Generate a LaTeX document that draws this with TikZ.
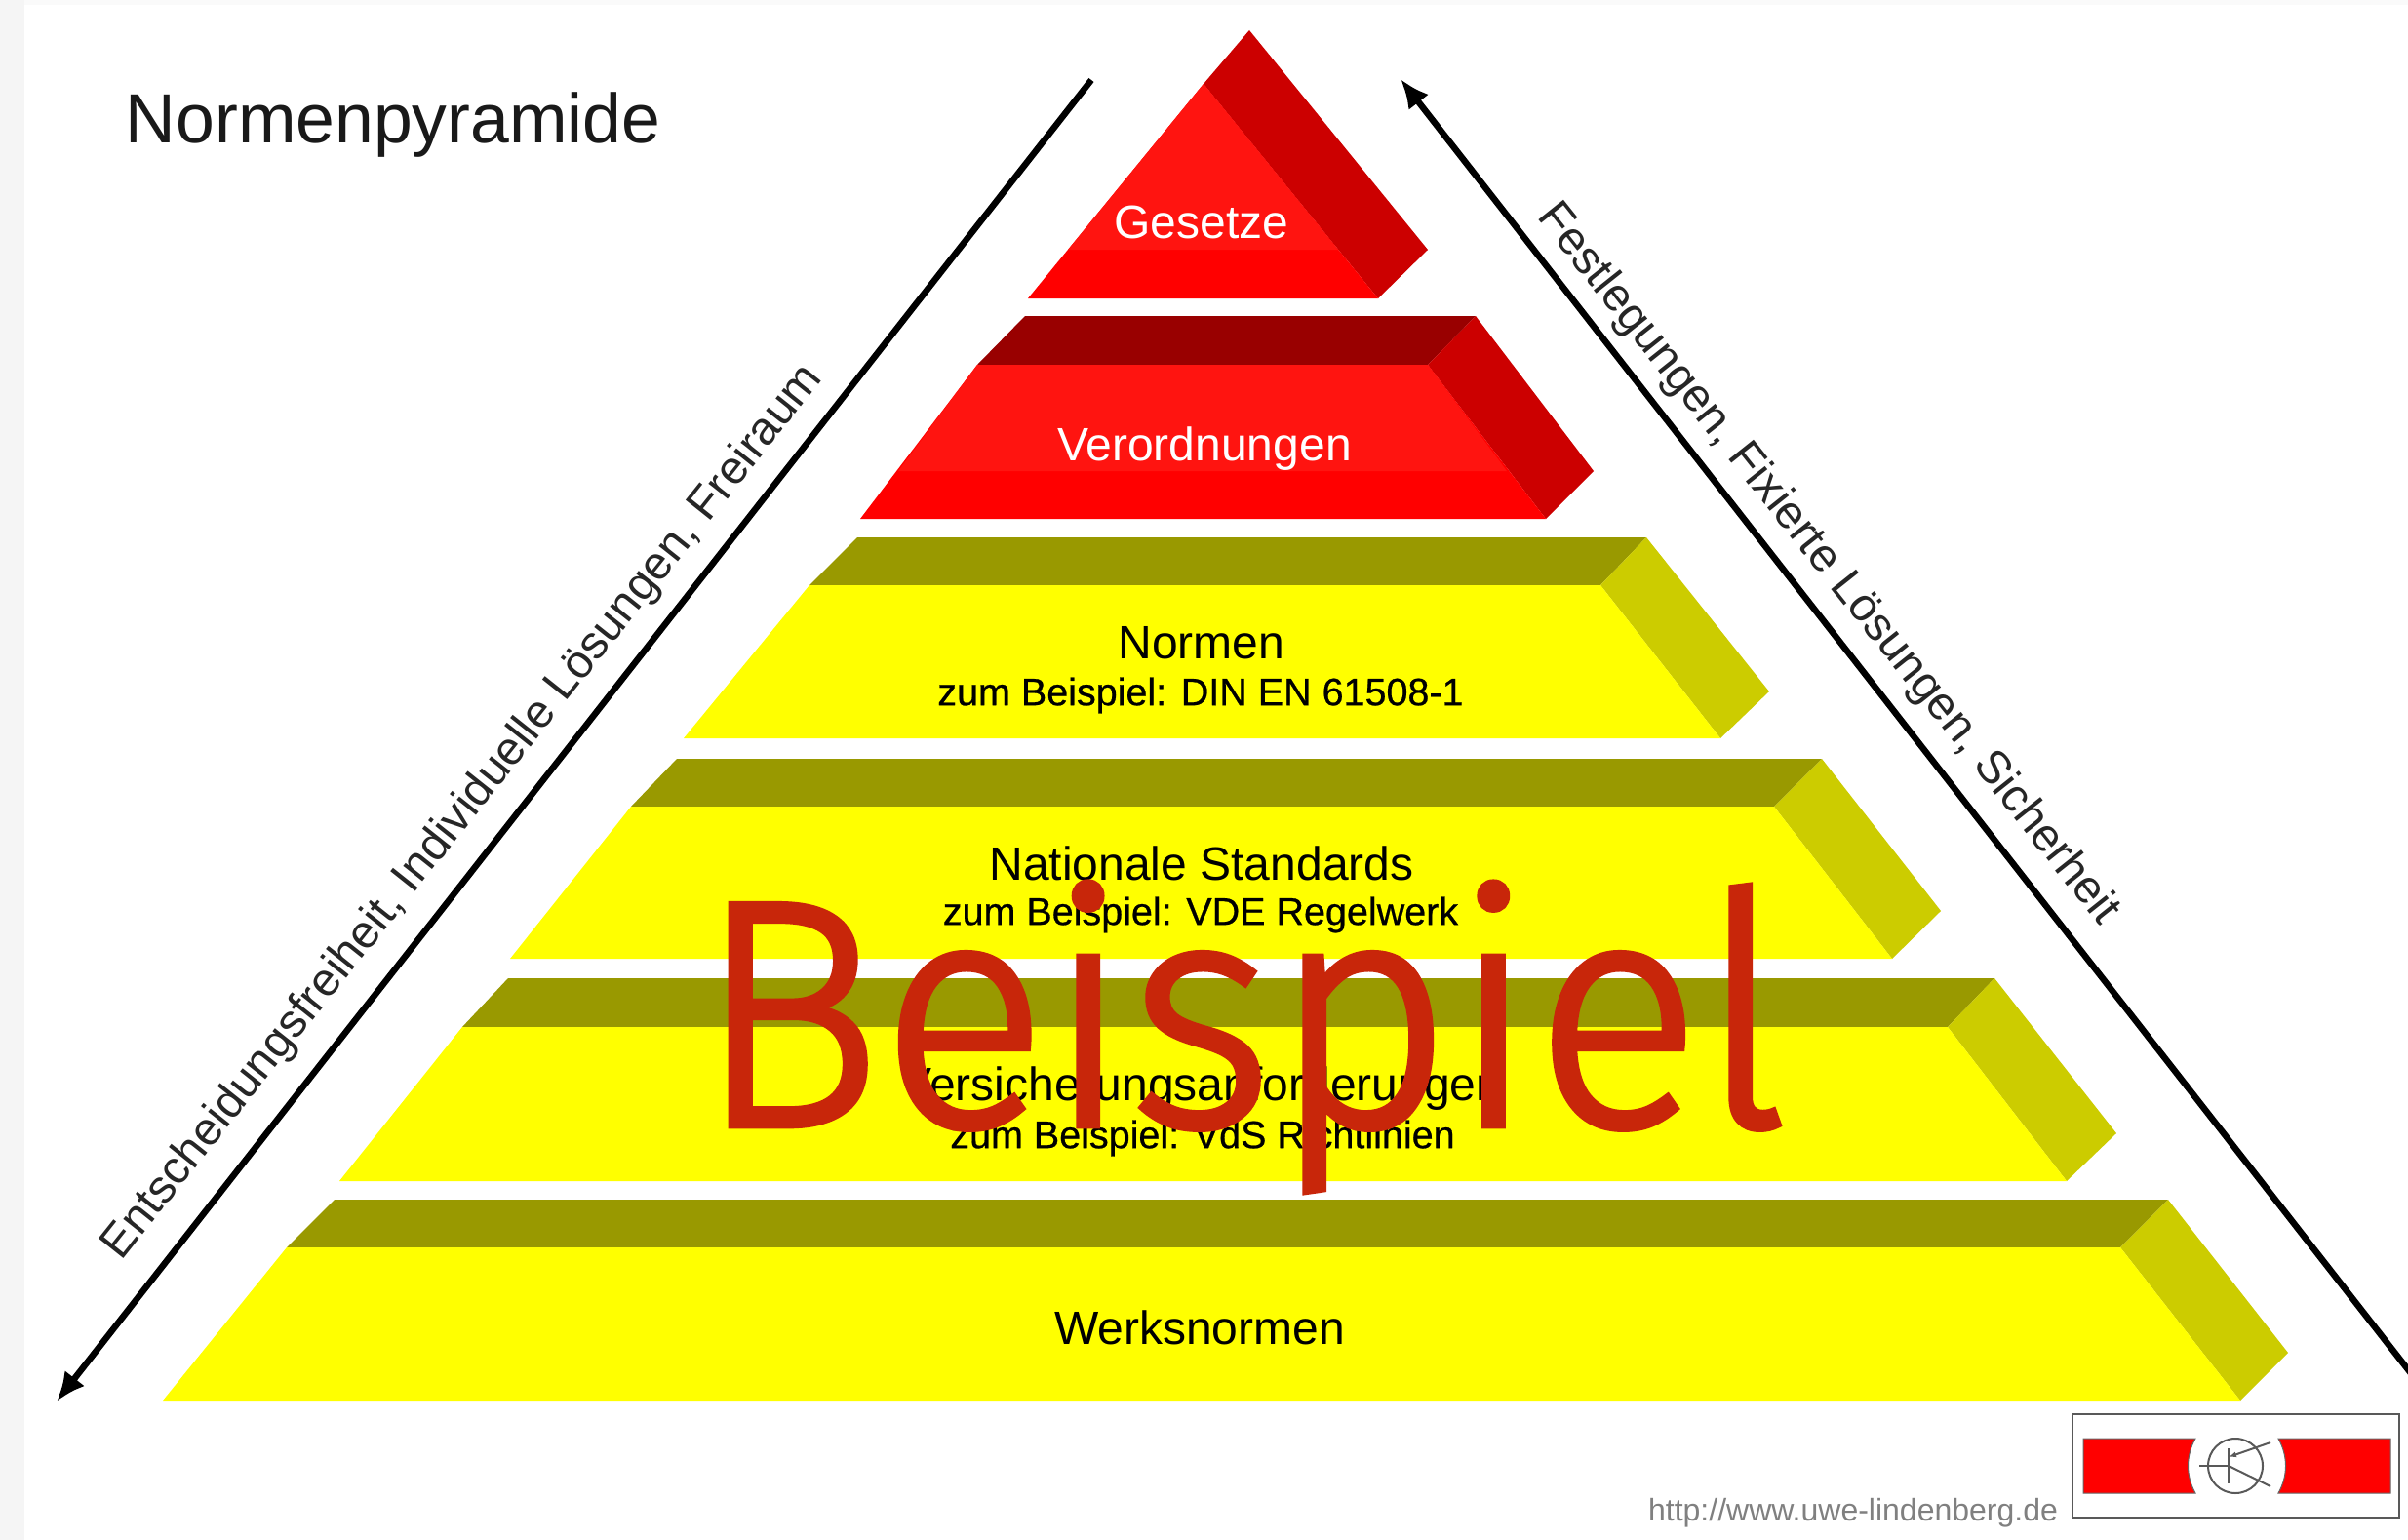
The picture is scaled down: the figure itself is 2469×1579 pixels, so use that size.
\documentclass[tikz,border=0pt]{standalone}
\usepackage{graphicx}
\usepackage{fontspec}
\setmainfont{Liberation Sans}
\newfontfamily\stampfont[FakeBold=2]{Fira Sans Light}
\newfontfamily\subfont[FakeBold=0.6]{Liberation Sans}
\usetikzlibrary{arrows.meta}
\definecolor{redfront}{HTML}{FF1410}
\definecolor{redbase}{HTML}{FF0000}
\definecolor{redside}{HTML}{CC0000}
\definecolor{redtop}{HTML}{990000}
\definecolor{yelfront}{HTML}{FFFF00}
\definecolor{yelside}{HTML}{CCCC00}
\definecolor{yeltop}{HTML}{999900}
\definecolor{stampred}{HTML}{C8260A}
\tikzset{
  x=1pt,y=-1pt,
  lab/.style={font=\fontsize{48}{50}\selectfont,inner sep=0pt,text=black},
  sublab/.style={font=\subfont\fontsize{39.5}{41}\selectfont,inner sep=0pt,text=black},
  sidelab/.style={font=\fontsize{47.5}{50}\selectfont,inner sep=0pt,text=black!85},
  pyrarrow/.style={line width=6.5pt,-{Latex[length=30pt,width=26pt]}},
}
\newcommand{\slab}[9]{%
  \def\sTLx{#1}\def\sTRx{#2}\def\sTy{#3}\def\sFLx{#4}\def\sFRx{#5}\def\sFy{#6}\def\sRx{#7}\def\sRy{#8}\def\sBRx{#9}\slabrest}
\newcommand{\slabrest}[5]{%
  \fill[#3] (\sTLx,\sTy) -- (\sTRx,\sTy) -- (\sFRx,\sFy) -- (\sFLx,\sFy) -- cycle;
  \fill[#4] (\sTRx,\sTy) -- (\sRx,\sRy) -- (\sBRx,#2) -- (\sFRx,\sFy) -- cycle;
  \fill[#5] (\sFLx,\sFy) -- (\sFRx,\sFy) -- (\sBRx,#2) -- (#1,#2) -- cycle;
}
\begin{document}
\begin{tikzpicture}
\useasboundingbox (0,0) rectangle (2469,1579);
\fill[white] (0,0) rectangle (2469,1579);
\fill[black!4] (0,0) rectangle (25,1579);
\fill[black!2] (25,0) rectangle (2469,5);

% Gesetze
\fill[redside] (1281,31) -- (1464,256) -- (1413,306) -- (1234,86) -- cycle;
\fill[redbase] (1234,86) -- (1413,306) -- (1054,306) -- cycle;
\fill[redfront] (1234,86) -- (1372,256) -- (1095,256) -- cycle;
% Verordnungen
\slab{1051}{1513}{324}{1002}{1464}{374}{1634}{483}{1585}{882}{532}{redtop}{redside}{redbase}{}
\fill[redfront] (1002,374) -- (1464,374) -- (1545,483) -- (921,483) -- cycle;
% yellow slabs
\slab{879}{1688}{551}{830}{1641}{600}{1814}{709}{1764}{701}{757}{yeltop}{yelside}{yelfront}{}
\slab{694}{1868}{778}{647}{1819}{827}{1990}{934}{1940}{523}{983}{yeltop}{yelside}{yelfront}{}
\slab{521}{2045}{1003}{474}{1997}{1053}{2170}{1162}{2119}{348}{1211}{yeltop}{yelside}{yelfront}{}
\slab{343}{2223}{1230}{294}{2174}{1279}{2346}{1387}{2297}{167}{1436}{yeltop}{yelside}{yelfront}{}

% Labels
\node[lab,text=white] (gesetze) at (1232,228) {Gesetze};
\node[lab,text=white] (verordnungen) at (1235,460) {Verordnungen};
\node[lab] (normen) at (1232,659) {Normen};
\node[sublab] (normenbsp) at (1231,713) {zum Beispiel: DIN EN 61508-1};
\node[lab] (national) at (1232,885) {Nationale Standards};
\node[sublab] (nationalbsp) at (1231,938) {zum Beispiel: VDE Regelwerk};
\node[lab] (versicherung) at (1232,1116) {Versicherungsanforderungen};
\node[sublab] (versicherungbsp) at (1233,1167) {zum Beispiel: VdS Richtlinien};
\node[lab] (werk) at (1230,1361) {Werksnormen};
\node[font=\fontsize{71.5}{74}\selectfont,inner sep=0pt,text=black!90] (titel) at (403,128) {Normenpyramide};

% Arrows
\coordinate (lstart) at (1119,82);
\coordinate (lend) at (58,1437);
\coordinate (rstart) at (2475,1412);
\coordinate (rend) at (1436,81);
\draw[pyrarrow] (lstart) -- (lend);
\draw[pyrarrow] (rstart) -- (rend);
\node[sidelab,rotate=51.5] (ltext) at (475,833) {Entscheidungsfreiheit, Individuelle Lösungen, Freiraum};
\node[sidelab,rotate=-51.5] (rtext) at (1874,579) {Festlegungen, Fixierte Lösungen, Sicherheit};

% URL
\node[font=\fontsize{32}{34}\selectfont,inner sep=0pt,text=black!50] (url) at (1900,1551) {http://www.uwe-lindenberg.de};

% Logo
\node[draw=black!65,line width=2pt,minimum width=335pt,minimum height=106pt,inner sep=0pt] (logo) at (2292.5,1503) {};
\fill[redbase,draw=black!60,line width=1pt] (2136,1475) -- (2251,1475) .. controls (2241,1493) and (2241,1513) .. (2251,1531) -- (2136,1531) -- cycle;
\fill[redbase,draw=black!60,line width=1pt] (2451,1475) -- (2336,1475) .. controls (2346,1493) and (2346,1513) .. (2336,1531) -- (2451,1531) -- cycle;
\node[circle,draw=black!65,line width=2pt,minimum size=56pt,inner sep=0pt] (tr) at (2292,1503) {};
\coordinate (tb) at (2255,1503);
\coordinate (tbb) at (2285,1503);
\coordinate (tt) at (2285,1485);
\coordinate (tu) at (2285,1521);
\coordinate (tc) at (2328,1479);
\coordinate (te) at (2328,1524);
\coordinate (ta) at (2285,1494);
\draw[black!65,line width=2pt] (tb) -- (tbb);
\draw[black!65,line width=2pt] (tt) -- (tu);
\draw[black!65,line width=2pt,{Latex[length=8pt,width=6pt]}-] (ta) -- (tc);
\draw[black!65,line width=2pt] (tbb) -- (te);

% Stamp
\node[anchor=base,inner sep=0pt,text=stampred,font=\stampfont\fontsize{331}{340}\selectfont] (stamp) at (1274,1154) {\scalebox{0.955}[1]{Beispiel}};
\end{tikzpicture}
\end{document}
